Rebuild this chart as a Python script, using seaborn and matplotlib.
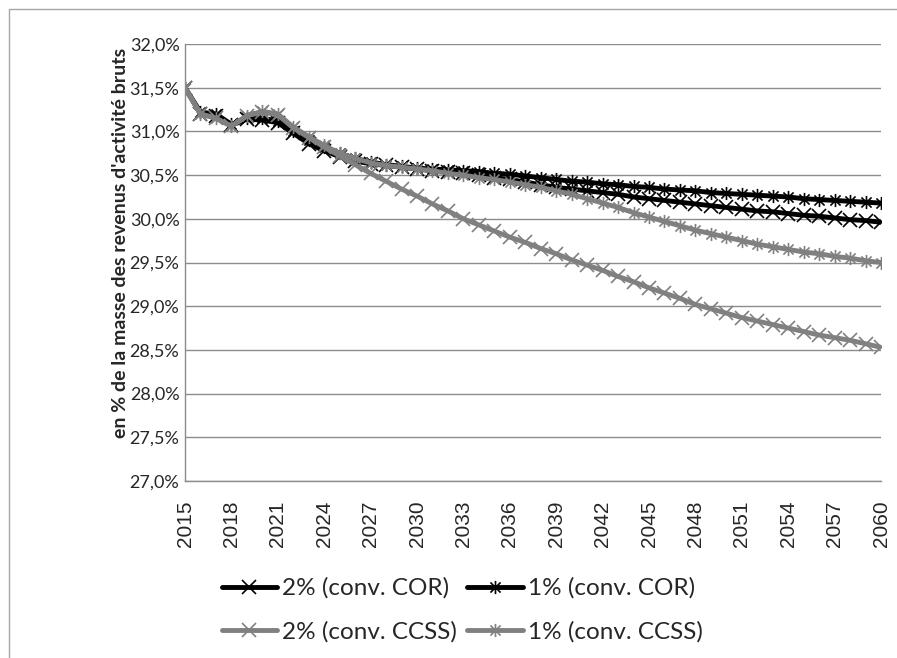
import numpy as np
import pandas as pd
import matplotlib
matplotlib.use("Agg")
import matplotlib.pyplot as plt
from matplotlib.path import Path
from matplotlib.lines import Line2D
import seaborn as sns

# ---------------- data ----------------
years = list(range(2015, 2061))

cor_2pct = [31.50, 31.20, 31.18, 31.07, 31.14, 31.13, 31.10, 30.98, 30.86, 30.78,
            30.71, 30.66, 30.63, 30.61, 30.59, 30.57, 30.55, 30.54, 30.52, 30.50,
            30.47, 30.45, 30.42, 30.39, 30.36, 30.34, 30.32, 30.30, 30.28, 30.25,
            30.23, 30.21, 30.19, 30.17, 30.15, 30.13, 30.11, 30.09, 30.08, 30.06,
            30.04, 30.03, 30.01, 29.99, 29.98, 29.96]

cor_1pct = [31.50, 31.22, 31.20, 31.08, 31.15, 31.15, 31.12, 31.00, 30.90, 30.82,
            30.75, 30.69, 30.65, 30.62, 30.60, 30.58, 30.57, 30.56, 30.55, 30.54,
            30.52, 30.51, 30.49, 30.47, 30.45, 30.43, 30.42, 30.40, 30.39, 30.37,
            30.36, 30.34, 30.33, 30.32, 30.30, 30.29, 30.28, 30.27, 30.26, 30.25,
            30.23, 30.22, 30.21, 30.20, 30.19, 30.18]

ccss_2pct = [31.50, 31.20, 31.15, 31.06, 31.18, 31.22, 31.19, 31.04, 30.93, 30.82,
             30.72, 30.62, 30.52, 30.43, 30.34, 30.26, 30.17, 30.09, 30.00, 29.93,
             29.86, 29.79, 29.73, 29.66, 29.60, 29.53, 29.47, 29.41, 29.34, 29.28,
             29.21, 29.15, 29.09, 29.02, 28.97, 28.92, 28.87, 28.83, 28.79, 28.75,
             28.71, 28.67, 28.64, 28.61, 28.57, 28.53]

ccss_1pct = [31.50, 31.20, 31.15, 31.06, 31.18, 31.23, 31.20, 31.05, 30.94, 30.84,
             30.75, 30.69, 30.64, 30.61, 30.59, 30.57, 30.55, 30.52, 30.50, 30.47,
             30.45, 30.42, 30.39, 30.36, 30.32, 30.28, 30.23, 30.18, 30.13, 30.07,
             30.02, 29.97, 29.92, 29.87, 29.83, 29.79, 29.75, 29.71, 29.68, 29.65,
             29.62, 29.60, 29.57, 29.55, 29.52, 29.50]

series_labels = ["2% (conv. COR)", "1% (conv. COR)", "2% (conv. CCSS)", "1% (conv. CCSS)"]
y_ticks = [27.0, 27.5, 28.0, 28.5, 29.0, 29.5, 30.0, 30.5, 31.0, 31.5, 32.0]
x_ticks = list(range(2015, 2061, 3))
y_label = "en % de la masse des revenus d'activité bruts"

# ---------------- style ----------------
sns.set_theme(style="white")
plt.rcParams["font.family"] = ["Lato", "DejaVu Sans"]

BLACK = "#000000"
GRAY = "#808080"
GRID = "#8C8C8C"

# custom "star" marker (X with a vertical bar), like Excel's star marker
star = Path([(-1, -1), (1, 1), (-1, 1), (1, -1), (0, -1.3), (0, 1.3)],
            [Path.MOVETO, Path.LINETO, Path.MOVETO, Path.LINETO, Path.MOVETO, Path.LINETO])

styles = [
    dict(color=BLACK, marker="x"),
    dict(color=BLACK, marker=star),
    dict(color=GRAY, marker="x"),
    dict(color=GRAY, marker=star),
]
data = [cor_2pct, cor_1pct, ccss_2pct, ccss_1pct]

LW = 3.5
MS = 9.5
MEW = 1.2

fig = plt.figure(figsize=(8.97, 6.58), dpi=100)
ax = fig.add_axes([185 / 897, 1 - 481 / 658, (881 - 185) / 897, (481 - 44) / 658])

for vals, lab, st in zip(data, series_labels, styles):
    df = pd.DataFrame({"year": years, "value": vals})
    sns.lineplot(data=df, x="year", y="value", ax=ax, color=st["color"],
                 linewidth=LW, marker=st["marker"], markersize=MS,
                 markeredgewidth=MEW, markerfacecolor="none",
                 markeredgecolor=st["color"], label=lab, legend=False)

ax.set_xlim(2015, 2060)
ax.set_ylim(27.0, 32.0)
ax.set_yticks(y_ticks)
ax.set_yticklabels([f"{v:.1f}%".replace(".", ",") for v in y_ticks], fontsize=13)
ax.set_xticks(x_ticks)
ax.set_xticklabels([str(x) for x in x_ticks], rotation=90, fontsize=15,
                   family=["Liberation Sans", "DejaVu Sans"])
ax.tick_params(axis="x", length=0, pad=14)
ax.tick_params(axis="y", length=0, pad=4)
ax.set_xlabel("")
ax.set_ylabel("")

ax.grid(axis="y", color=GRID, linewidth=1.0)
ax.grid(axis="x", visible=False)
ax.set_axisbelow(True)
for s in ["top", "right"]:
    ax.spines[s].set_visible(False)
for s in ["left", "bottom"]:
    ax.spines[s].set_color(GRID)
    ax.spines[s].set_linewidth(1.0)

fig.text(120 / 897, 1 - 243 / 658, y_label, rotation=90, ha="center", va="center",
         fontsize=14, fontweight="bold")

handles = [Line2D([], [], color=st["color"], linewidth=LW, marker=st["marker"],
                  markersize=MS, markeredgewidth=MEW, markerfacecolor="none",
                  markeredgecolor=st["color"]) for st in styles]
# column-major fill -> order so rows read: COR pair, then CCSS pair
order = [0, 2, 1, 3]
fig.legend([handles[i] for i in order], [series_labels[i] for i in order],
           loc="center", bbox_to_anchor=(462 / 897, 1 - 610 / 658),
           ncol=2, frameon=False, fontsize=17.5, handlelength=2.3, handletextpad=0.2,
           columnspacing=0.4, labelspacing=0.9, numpoints=1)

# outer chart-area border (only left and top visible in the crop)
fig.add_artist(Line2D([9 / 897, 9 / 897], [0, 1 - 9 / 658], transform=fig.transFigure,
                      color="#A6A6A6", linewidth=1.0))
fig.add_artist(Line2D([9 / 897, 1], [1 - 9 / 658, 1 - 9 / 658], transform=fig.transFigure,
                      color="#A6A6A6", linewidth=1.0))

fig.savefig("out.png", dpi=100)
